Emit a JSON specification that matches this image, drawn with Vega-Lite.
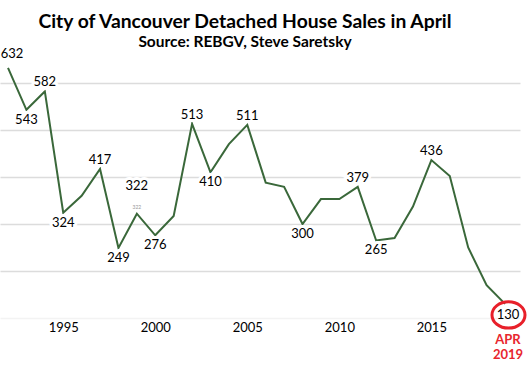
{
  "$schema": "https://vega.github.io/schema/vega-lite/v6.json",
  "autosize": "none",
  "width": 520,
  "height": 282,
  "padding": {"left": 0, "top": 36, "right": 7, "bottom": 47},
  "background": "white",
  "title": {
    "text": "City of Vancouver Detached House Sales in April",
    "subtitle": "Source: REBGV, Steve Saretsky",
    "font": "Lato",
    "fontSize": 19.3,
    "fontWeight": "bold",
    "color": "#000000",
    "subtitleFont": "Lato",
    "subtitleFontSize": 15.5,
    "subtitleFontWeight": "bold",
    "subtitleColor": "#000000",
    "subtitlePadding": 2,
    "anchor": "middle",
    "dx": -15,
    "offset": -14
  },
  "config": {
    "view": {"stroke": null},
    "text": {"font": "Lato", "fontSize": 13, "color": "#000000"}
  },
  "data": {
    "values": [
      {"year": 1992, "sales": 632},
      {"year": 1993, "sales": 543},
      {"year": 1994, "sales": 582},
      {"year": 1995, "sales": 324},
      {"year": 1996, "sales": 360},
      {"year": 1997, "sales": 417},
      {"year": 1998, "sales": 249},
      {"year": 1999, "sales": 322},
      {"year": 2000, "sales": 276},
      {"year": 2001, "sales": 317},
      {"year": 2002, "sales": 513},
      {"year": 2003, "sales": 410},
      {"year": 2004, "sales": 470},
      {"year": 2005, "sales": 511},
      {"year": 2006, "sales": 388},
      {"year": 2007, "sales": 379},
      {"year": 2008, "sales": 300},
      {"year": 2009, "sales": 353},
      {"year": 2010, "sales": 353},
      {"year": 2011, "sales": 379},
      {"year": 2012, "sales": 265},
      {"year": 2013, "sales": 270},
      {"year": 2014, "sales": 337},
      {"year": 2015, "sales": 436},
      {"year": 2016, "sales": 402},
      {"year": 2017, "sales": 250},
      {"year": 2018, "sales": 170},
      {"year": 2019, "sales": 130, "note": "APR\n2019"}
    ]
  },
  "encoding": {
    "x": {
      "field": "year",
      "type": "quantitative",
      "scale": {"domain": [1991.565, 2019.815], "nice": false, "zero": false},
      "axis": {
        "title": null,
        "values": [1995, 2000, 2005, 2010, 2015],
        "format": "d",
        "grid": false,
        "domain": false,
        "ticks": false,
        "labelFont": "Lato",
        "labelFontSize": 13,
        "labelColor": "#000000",
        "labelPadding": 3
      }
    },
    "y": {
      "field": "sales",
      "type": "quantitative",
      "scale": {"domain": [100, 700], "nice": false, "zero": false},
      "axis": {
        "title": null,
        "values": [100, 200, 300, 400, 500, 600],
        "labels": false,
        "ticks": false,
        "domain": false,
        "grid": true,
        "gridColor": {"condition": {"test": "datum.value === 100", "value": "#f3f3f3"}, "value": "#dcdcdc"},
        "gridWidth": 1.5
      }
    }
  },
  "layer": [
    {
      "mark": {"type": "line", "color": "#3a683a", "strokeWidth": 2}
    },
    {
      "transform": [{"filter": {"field": "year", "oneOf": [1994, 1997, 2002, 2005, 2011, 2015]}}],
      "mark": {"type": "text", "dy": -9, "stroke": "white", "strokeWidth": 6, "fill": "white"},
      "encoding": {"text": {"field": "sales", "type": "quantitative"}}
    },
    {
      "transform": [{"filter": {"field": "year", "oneOf": [1993, 1995, 1998, 2000, 2003, 2008, 2012]}}],
      "mark": {"type": "text", "dy": 10, "stroke": "white", "strokeWidth": 6, "fill": "white"},
      "encoding": {"text": {"field": "sales", "type": "quantitative"}}
    },
    {
      "transform": [{"filter": {"field": "year", "equal": 1999}}],
      "mark": {"type": "text", "dy": -28, "stroke": "white", "strokeWidth": 6, "fill": "white"},
      "encoding": {"text": {"field": "sales", "type": "quantitative"}}
    },
    {
      "transform": [{"filter": {"field": "year", "oneOf": [1994, 1997, 2002, 2005, 2011, 2015]}}],
      "mark": {"type": "text", "dy": -9},
      "encoding": {"text": {"field": "sales", "type": "quantitative"}}
    },
    {
      "transform": [{"filter": {"field": "year", "oneOf": [1993, 1995, 1998, 2000, 2003, 2008, 2012]}}],
      "mark": {"type": "text", "dy": 10},
      "encoding": {"text": {"field": "sales", "type": "quantitative"}}
    },
    {
      "transform": [{"filter": {"field": "year", "equal": 1999}}],
      "mark": {"type": "text", "dy": -28},
      "encoding": {"text": {"field": "sales", "type": "quantitative"}}
    },
    {
      "transform": [{"filter": {"field": "year", "equal": 1999}}],
      "mark": {"type": "text", "dy": -7, "fontSize": 5, "color": "#999999"},
      "encoding": {"text": {"field": "sales", "type": "quantitative"}}
    },
    {
      "transform": [{"filter": {"field": "year", "equal": 1992}}],
      "mark": {"type": "text", "dy": -14, "dx": 4},
      "encoding": {"text": {"field": "sales", "type": "quantitative"}}
    },
    {
      "transform": [{"filter": {"field": "year", "equal": 2019}}],
      "mark": {"type": "text", "dy": 11, "dx": 3},
      "encoding": {"text": {"field": "sales", "type": "quantitative"}}
    },
    {
      "transform": [{"filter": {"field": "year", "equal": 2019}}],
      "mark": {
        "type": "point",
        "shape": "M -1 0 A 1 0.8 0 1 0 1 0 A 1 0.8 0 1 0 -1 0 Z",
        "size": 1090,
        "filled": false,
        "stroke": "#e8202a",
        "strokeWidth": 3,
        "opacity": 1,
        "xOffset": 3.5,
        "yOffset": 11
      }
    },
    {
      "transform": [{"filter": {"field": "year", "equal": 2019}}],
      "mark": {
        "type": "text",
        "baseline": "top",
        "dy": 30,
        "dx": 3,
        "lineBreak": "\n",
        "lineHeight": 15,
        "fontWeight": "bold",
        "fontSize": 13,
        "color": "#e8262e"
      },
      "encoding": {"text": {"field": "note", "type": "nominal"}}
    }
  ]
}
